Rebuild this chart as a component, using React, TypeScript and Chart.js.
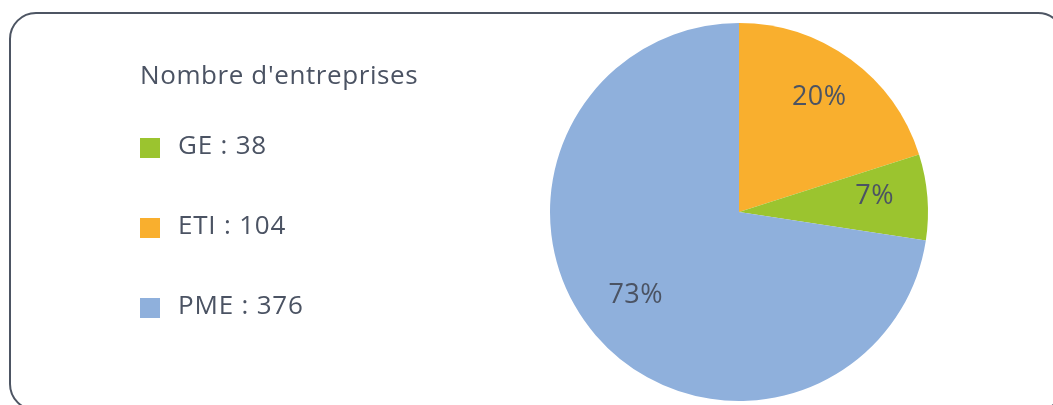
import React, { useEffect, useRef } from "react";
import { Chart, registerables } from "chart.js";

Chart.register(...registerables);

// Slices, clockwise from 12 o'clock
const categories = ["ETI", "GE", "PME"];
const counts = [104, 38, 376];
const colors = ["#F9AF2E", "#9BC42F", "#8FB0DC"];

// Legend
const legendTitle = "Nombre d'entreprises";
const legendOrder = ["GE", "ETI", "PME"];

const TEXT = "#4B5363";
const FONT = "'Open Sans', 'Noto Sans', sans-serif";

const pctLabels = {
  id: "pctLabels",
  afterDatasetsDraw(chart: any) {
    const ctx = chart.ctx;
    const meta = chart.getDatasetMeta(0);
    const data = chart.data.datasets[0].data as number[];
    const total = data.reduce((a, b) => a + b, 0);
    ctx.save();
    ctx.fillStyle = TEXT;
    ctx.font = `27px ${FONT}`;
    try {
      (ctx as any).letterSpacing = "0.5px";
    } catch (e) {}
    ctx.textAlign = "center";
    ctx.textBaseline = "middle";
    meta.data.forEach((arc: any, i: number) => {
      const { x, y, startAngle, endAngle, outerRadius } = arc.getProps(
        ["x", "y", "startAngle", "endAngle", "outerRadius"],
        true
      );
      const mid = (startAngle + endAngle) / 2;
      const r = outerRadius * 0.72;
      const pct = Math.round((data[i] / total) * 100) + "%";
      ctx.fillText(pct, x + Math.cos(mid) * r, y + Math.sin(mid) * r - 5);
    });
    ctx.restore();
  },
};

export default function App() {
  const ref = useRef<HTMLCanvasElement>(null);

  useEffect(() => {
    if (!ref.current) return;
    const chart = new Chart(ref.current, {
      type: "pie",
      data: {
        labels: categories,
        datasets: [
          {
            data: counts,
            backgroundColor: colors,
            borderWidth: 0,
            hoverOffset: 0,
            hoverBorderWidth: 0,
          },
        ],
      },
      options: {
        responsive: false,
        animation: false,
        events: [],
        layout: { padding: { left: 550, right: 125, top: 23, bottom: 4 } },
        plugins: {
          legend: { display: false },
          tooltip: { enabled: false },
        },
      },
      plugins: [pctLabels],
    });
    return () => chart.destroy();
  }, []);

  return (
    <div
      style={{
        position: "fixed",
        left: 0,
        top: 0,
        width: 1053,
        height: 405,
        overflow: "hidden",
        background: "#fff",
        fontFamily: FONT,
        color: TEXT,
      }}
    >
      <div
        style={{
          position: "absolute",
          left: 9,
          top: 12,
          width: 1056,
          height: 399,
          border: "2px solid #4D5563",
          borderRadius: 27,
          boxSizing: "border-box",
        }}
      />
      <canvas
        ref={ref}
        width={1053}
        height={405}
        style={{ position: "absolute", left: 0, top: 0 }}
      />
      <div
        style={{
          position: "absolute",
          left: 140,
          top: 61,
          fontSize: 26,
          lineHeight: "26px",
          letterSpacing: 0.6,
          whiteSpace: "nowrap",
        }}
      >
        {legendTitle}
      </div>
      {legendOrder.map((name, k) => {
        const i = categories.indexOf(name);
        return (
          <div
            key={name}
            style={{
              position: "absolute",
              left: 140,
              top: 131 + k * 80,
              height: 26,
              display: "flex",
              alignItems: "center",
              whiteSpace: "nowrap",
            }}
          >
            <span
              style={{
                display: "inline-block",
                width: 20,
                height: 20,
                background: colors[i],
                marginTop: 8,
              }}
            />
            <span
              style={{
                fontSize: 26,
                lineHeight: "26px",
                letterSpacing: 0.8,
                marginLeft: 18,
              }}
            >
              {name} : {counts[i]}
            </span>
          </div>
        );
      })}
    </div>
  );
}
